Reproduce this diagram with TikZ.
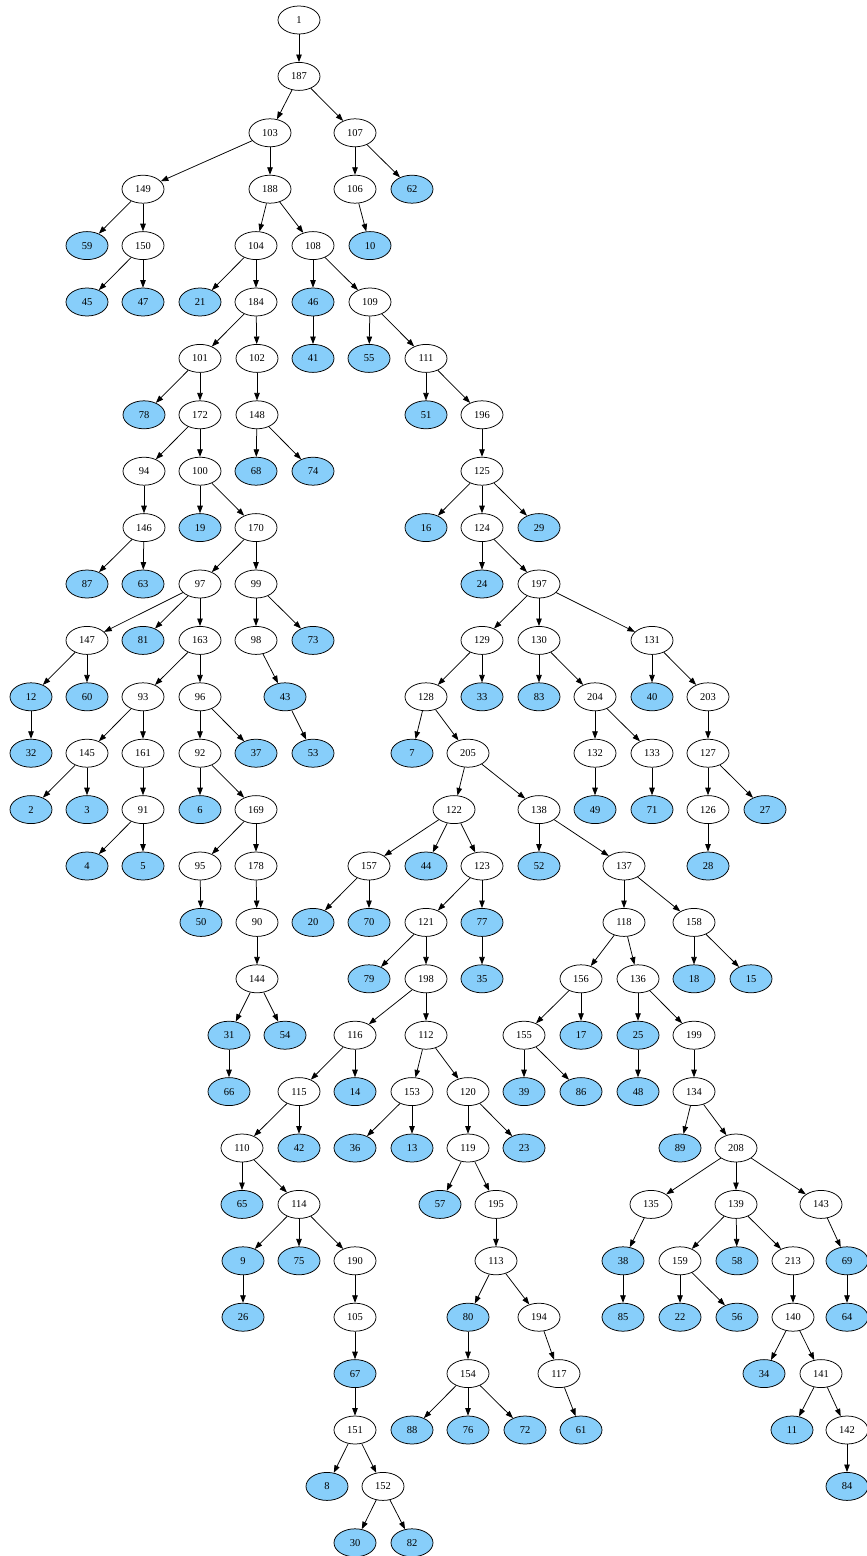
\documentclass[tikz,border=0pt]{standalone}
\usepackage{fontspec}
\setmainfont{Liberation Serif}
\usetikzlibrary{shapes.geometric,arrows.meta}
\definecolor{leaf}{HTML}{87CEFA}
\newcommand\nd[4]{\node[#4] (n#1) at (#2,{-20-56.4*#3}) {#1};}
\begin{document}
\begin{tikzpicture}[x=1pt,y=1pt,
  w/.style={ellipse,draw,line width=0.75pt,minimum width=42pt,minimum height=28pt,inner sep=0pt,font=\fontsize{10.5}{12}\selectfont},
  b/.style={w,fill=leaf},
  e/.style={line width=0.75pt,-{Triangle[length=7.5pt,width=5.5pt]}}]
\useasboundingbox (0,0) rectangle (867,-1556);
% row 0-1
\nd{1}{299}{0}{w}
\nd{187}{299}{1}{w}
% row 2
\nd{103}{270}{2}{w}\nd{107}{355}{2}{w}
% row 3
\nd{149}{143}{3}{w}\nd{188}{270}{3}{w}\nd{106}{355}{3}{w}\nd{62}{412}{3}{b}
% row 4
\nd{59}{87}{4}{b}\nd{150}{143}{4}{w}\nd{104}{256}{4}{w}\nd{108}{313}{4}{w}\nd{10}{370}{4}{b}
% row 5
\nd{45}{87}{5}{b}\nd{47}{143}{5}{b}\nd{21}{200}{5}{b}\nd{184}{256}{5}{w}\nd{46}{313}{5}{b}\nd{109}{370}{5}{w}
% row 6
\nd{101}{200}{6}{w}\nd{102}{257}{6}{w}\nd{41}{313}{6}{b}\nd{55}{369}{6}{b}\nd{111}{426}{6}{w}
% row 7
\nd{78}{144}{7}{b}\nd{172}{200}{7}{w}\nd{148}{257}{7}{w}\nd{51}{426}{7}{b}\nd{196}{482}{7}{w}
% row 8
\nd{94}{144}{8}{w}\nd{100}{200}{8}{w}\nd{68}{256}{8}{b}\nd{74}{313}{8}{b}\nd{125}{482}{8}{w}
% row 9
\nd{146}{144}{9}{w}\nd{19}{200}{9}{b}\nd{170}{256}{9}{w}\nd{16}{426}{9}{b}\nd{124}{482}{9}{w}\nd{29}{539}{9}{b}
% row 10
\nd{87}{87}{10}{b}\nd{63}{143}{10}{b}\nd{97}{200}{10}{w}\nd{99}{256}{10}{w}\nd{24}{482}{10}{b}\nd{197}{539}{10}{w}
% row 11
\nd{147}{87}{11}{w}\nd{81}{143}{11}{b}\nd{163}{200}{11}{w}\nd{98}{256}{11}{w}\nd{73}{313}{11}{b}\nd{129}{482}{11}{w}\nd{130}{539}{11}{w}\nd{131}{652}{11}{w}
% row 12
\nd{12}{31}{12}{b}\nd{60}{87}{12}{b}\nd{93}{143}{12}{w}\nd{96}{200}{12}{w}\nd{43}{285}{12}{b}\nd{128}{426}{12}{w}\nd{33}{482}{12}{b}\nd{83}{539}{12}{b}\nd{204}{595}{12}{w}\nd{40}{652}{12}{b}\nd{203}{708}{12}{w}
% row 13
\nd{32}{31}{13}{b}\nd{145}{87}{13}{w}\nd{161}{143}{13}{w}\nd{92}{200}{13}{w}\nd{37}{256}{13}{b}\nd{53}{313}{13}{b}\nd{7}{412}{13}{b}\nd{205}{468}{13}{w}\nd{132}{595}{13}{w}\nd{133}{652}{13}{w}\nd{127}{708}{13}{w}
% row 14
\nd{2}{31}{14}{b}\nd{3}{87}{14}{b}\nd{91}{143}{14}{w}\nd{6}{200}{14}{b}\nd{169}{256}{14}{w}\nd{122}{454}{14}{w}\nd{138}{539}{14}{w}\nd{49}{595}{14}{b}\nd{71}{652}{14}{b}\nd{126}{708}{14}{w}\nd{27}{765}{14}{b}
% row 15
\nd{4}{87}{15}{b}\nd{5}{143}{15}{b}\nd{95}{200}{15}{w}\nd{178}{256}{15}{w}\nd{157}{369}{15}{w}\nd{44}{426}{15}{b}\nd{123}{482}{15}{w}\nd{52}{539}{15}{b}\nd{137}{624}{15}{w}\nd{28}{708}{15}{b}
% row 16
\nd{50}{201}{16}{b}\nd{90}{257}{16}{w}\nd{20}{313}{16}{b}\nd{70}{369}{16}{b}\nd{121}{426}{16}{w}\nd{77}{482}{16}{b}\nd{118}{624}{16}{w}\nd{158}{694}{16}{w}
% row 17
\nd{144}{257}{17}{w}\nd{79}{369}{17}{b}\nd{198}{426}{17}{w}\nd{35}{482}{17}{b}\nd{156}{581}{17}{w}\nd{136}{638}{17}{w}\nd{18}{694}{17}{b}\nd{15}{751}{17}{b}
% row 18
\nd{31}{229}{18}{b}\nd{54}{285}{18}{b}\nd{116}{355}{18}{w}\nd{112}{426}{18}{w}\nd{155}{524}{18}{w}\nd{17}{581}{18}{b}\nd{25}{638}{18}{b}\nd{199}{694}{18}{w}
% row 19
\nd{66}{229}{19}{b}\nd{115}{299}{19}{w}\nd{14}{355}{19}{b}\nd{153}{412}{19}{w}\nd{120}{468}{19}{w}\nd{39}{524}{19}{b}\nd{86}{581}{19}{b}\nd{48}{638}{19}{b}\nd{134}{694}{19}{w}
% row 20
\nd{110}{242}{20}{w}\nd{42}{299}{20}{b}\nd{36}{355}{20}{b}\nd{13}{412}{20}{b}\nd{119}{468}{20}{w}\nd{23}{524}{20}{b}\nd{89}{680}{20}{b}\nd{208}{736}{20}{w}
% row 21
\nd{65}{242}{21}{b}\nd{114}{299}{21}{w}\nd{57}{440}{21}{b}\nd{195}{496}{21}{w}\nd{135}{651}{21}{w}\nd{139}{736}{21}{w}\nd{143}{821}{21}{w}
% row 22
\nd{9}{243}{22}{b}\nd{75}{299}{22}{b}\nd{190}{355}{22}{w}\nd{113}{496}{22}{w}\nd{38}{623}{22}{b}\nd{159}{680}{22}{w}\nd{58}{737}{22}{b}\nd{213}{793}{22}{w}\nd{69}{847}{22}{b}
% row 23
\nd{26}{243}{23}{b}\nd{105}{355}{23}{w}\nd{80}{468}{23}{b}\nd{194}{539}{23}{w}\nd{85}{623}{23}{b}\nd{22}{680}{23}{b}\nd{56}{737}{23}{b}\nd{140}{793}{23}{w}\nd{64}{847}{23}{b}
% row 24
\nd{67}{355}{24}{b}\nd{154}{468}{24}{w}\nd{117}{559}{24}{w}\nd{34}{764}{24}{b}\nd{141}{821}{24}{w}
% row 25
\nd{151}{355}{25}{w}\nd{88}{412}{25}{b}\nd{76}{468}{25}{b}\nd{72}{525}{25}{b}\nd{61}{581}{25}{b}\nd{11}{792}{25}{b}\nd{142}{847}{25}{w}
% row 26
\nd{8}{327}{26}{b}\nd{152}{383}{26}{w}\nd{84}{847}{26}{b}
% row 27
\nd{30}{355}{27}{b}\nd{82}{412}{27}{b}
% edges
\foreach \a/\b in {1/187,187/103,187/107,103/149,103/188,107/106,107/62,149/59,149/150,150/45,150/47,
188/104,188/108,106/10,104/21,104/184,108/46,108/109,184/101,184/102,46/41,109/55,109/111,
101/78,101/172,102/148,111/51,111/196,172/94,172/100,148/68,148/74,196/125,94/146,100/19,100/170,
125/16,125/124,125/29,146/87,146/63,170/97,170/99,124/24,124/197,97/147,97/81,97/163,99/98,99/73,
197/129,197/130,197/131,147/12,147/60,163/93,163/96,98/43,129/128,129/33,130/83,130/204,131/40,131/203,
12/32,93/145,93/161,96/92,96/37,43/53,128/7,128/205,204/132,204/133,203/127,145/2,145/3,161/91,
92/6,92/169,205/122,205/138,132/49,133/71,127/126,127/27,91/4,91/5,169/95,169/178,122/157,122/44,122/123,
138/52,138/137,126/28,95/50,178/90,157/20,157/70,123/121,123/77,137/118,137/158,90/144,121/79,121/198,
77/35,118/156,118/136,158/18,158/15,144/31,144/54,198/116,198/112,156/155,156/17,136/25,136/199,
31/66,116/115,116/14,112/153,112/120,155/39,155/86,25/48,199/134,115/110,115/42,153/36,153/13,
120/119,120/23,134/89,134/208,110/65,110/114,119/57,119/195,208/135,208/139,208/143,114/9,114/75,114/190,
195/113,135/38,139/159,139/58,139/213,143/69,9/26,190/105,113/80,113/194,38/85,159/22,159/56,213/140,
69/64,105/67,80/154,194/117,140/34,140/141,67/151,154/88,154/76,154/72,117/61,141/11,141/142,
151/8,151/152,142/84,152/30,152/82}
  \draw[e] (n\a) -- (n\b);
\end{tikzpicture}
\end{document}
